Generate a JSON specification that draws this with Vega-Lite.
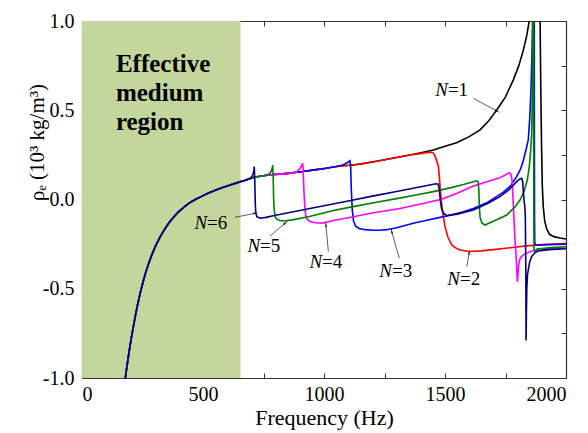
{
"$schema":"https://vega.github.io/schema/vega-lite/v6.json",
"width":484,"height":357,
"autosize":{"type":"none"},
"padding":{"left":82,"top":21,"right":22,"bottom":55},
"config":{"view":{"stroke":null},"font":"Liberation Serif",
"text":{"font":"Liberation Serif"},
"axis":{"domainColor":"#333","domainWidth":1.2,"tickColor":"#333","tickSize":-5,"grid":false,"labelFont":"Liberation Serif","labelFontSize":20,"labelColor":"#000","titleFont":"Liberation Serif","titleFontSize":22,"titleFontWeight":"normal","titleColor":"#000","zindex":1}},
"layer":[
{"data":{"values":[{"x0":0,"x1":655,"y0":-1,"y1":1}]},
"mark":{"type":"rect","color":"#c3d69b"},
"encoding":{
"x":{"field":"x0","type":"quantitative","scale":{"domain":[0,2000],"nice":false},"axis":{"orient":"top","labels":false,"title":null,"values":[0,250,500,750,1000,1250,1500,1750,2000]}},
"x2":{"field":"x1"},
"y":{"field":"y0","type":"quantitative","scale":{"domain":[-1,1],"nice":false},"axis":{"orient":"right","labels":false,"title":null,"values":[-1,-0.75,-0.5,-0.25,0,0.25,0.5,0.75,1]}},
"y2":{"field":"y1"}}},
{"data":{"values":[
{"s":1,"f":176,"r":-1.05},{"s":1,"f":179,"r":-1.0},{"s":1,"f":186,"r":-0.932},{"s":1,"f":193,"r":-0.868},{"s":1,"f":200,"r":-0.808},{"s":1,"f":207,"r":-0.752},{"s":1,"f":213,"r":-0.706},{"s":1,"f":220,"r":-0.655},{"s":1,"f":230,"r":-0.588},{"s":1,"f":241,"r":-0.522},{"s":1,"f":251,"r":-0.468},{"s":1,"f":262,"r":-0.415},{"s":1,"f":275,"r":-0.36},{"s":1,"f":289,"r":-0.308},{"s":1,"f":305,"r":-0.257},{"s":1,"f":324,"r":-0.206},{"s":1,"f":340,"r":-0.17},{"s":1,"f":358,"r":-0.133},{"s":1,"f":378,"r":-0.099},{"s":1,"f":399,"r":-0.069},{"s":1,"f":420,"r":-0.044},{"s":1,"f":441,"r":-0.022},{"s":1,"f":468,"r":0},{"s":1,"f":496,"r":0.019},{"s":1,"f":523,"r":0.036},{"s":1,"f":551,"r":0.052},{"s":1,"f":578,"r":0.066},{"s":1,"f":606,"r":0.079},{"s":1,"f":630,"r":0.089},{"s":1,"f":654,"r":0.099},{"s":1,"f":675,"r":0.108},{"s":1,"f":694,"r":0.117},
{"s":1,"f":711,"r":0.124},{"s":1,"f":730,"r":0.129},{"s":1,"f":750,"r":0.133},{"s":1,"f":763,"r":0.136},
{"s":1,"f":790,"r":0.14},{"s":1,"f":818,"r":0.142},{"s":1,"f":840,"r":0.145},{"s":1,"f":860,"r":0.148},{"s":1,"f":885,"r":0.153},
{"s":1,"f":912,"r":0.157},{"s":1,"f":928,"r":0.16},{"s":1,"f":960,"r":0.166},{"s":1,"f":997,"r":0.172},{"s":1,"f":1039,"r":0.182},{"s":1,"f":1052,"r":0.185},
{"s":1,"f":1080,"r":0.19},{"s":1,"f":1107,"r":0.192},{"s":1,"f":1128,"r":0.195},{"s":1,"f":1160,"r":0.201},{"s":1,"f":1200,"r":0.21},{"s":1,"f":1245,"r":0.221},{"s":1,"f":1300,"r":0.235},{"s":1,"f":1355,"r":0.249},
{"s":1,"f":1400,"r":0.262},{"s":1,"f":1452,"r":0.277},{"s":1,"f":1500,"r":0.298},{"s":1,"f":1548,"r":0.318},{"s":1,"f":1600,"r":0.352},{"s":1,"f":1645,"r":0.39},{"s":1,"f":1680,"r":0.44},{"s":1,"f":1713,"r":0.5},{"s":1,"f":1750,"r":0.575},{"s":1,"f":1782,"r":0.669},{"s":1,"f":1805,"r":0.75},{"s":1,"f":1824,"r":0.838},{"s":1,"f":1838,"r":0.92},{"s":1,"f":1848,"r":1.0},{"s":1,"f":1852,"r":1.35},{"s":1,"f":1889,"r":1.35},{"s":1,"f":1893,"r":1.0},{"s":1,"f":1896,"r":0.6},{"s":1,"f":1899,"r":0.3},{"s":1,"f":1902,"r":0.08},{"s":1,"f":1906,"r":-0.04},{"s":1,"f":1912,"r":-0.12},{"s":1,"f":1920,"r":-0.165},{"s":1,"f":1932,"r":-0.195},{"s":1,"f":1950,"r":-0.208},{"s":1,"f":1975,"r":-0.216},{"s":1,"f":2000,"r":-0.221},
{"s":2,"f":176,"r":-1.05},{"s":2,"f":179,"r":-1.0},{"s":2,"f":186,"r":-0.932},{"s":2,"f":193,"r":-0.868},{"s":2,"f":200,"r":-0.808},{"s":2,"f":207,"r":-0.752},{"s":2,"f":213,"r":-0.706},{"s":2,"f":220,"r":-0.655},{"s":2,"f":230,"r":-0.588},{"s":2,"f":241,"r":-0.522},{"s":2,"f":251,"r":-0.468},{"s":2,"f":262,"r":-0.415},{"s":2,"f":275,"r":-0.36},{"s":2,"f":289,"r":-0.308},{"s":2,"f":305,"r":-0.257},{"s":2,"f":324,"r":-0.206},{"s":2,"f":340,"r":-0.17},{"s":2,"f":358,"r":-0.133},{"s":2,"f":378,"r":-0.099},{"s":2,"f":399,"r":-0.069},{"s":2,"f":420,"r":-0.044},{"s":2,"f":441,"r":-0.022},{"s":2,"f":468,"r":0},{"s":2,"f":496,"r":0.019},{"s":2,"f":523,"r":0.036},{"s":2,"f":551,"r":0.052},{"s":2,"f":578,"r":0.066},{"s":2,"f":606,"r":0.079},{"s":2,"f":630,"r":0.089},{"s":2,"f":654,"r":0.099},{"s":2,"f":675,"r":0.108},{"s":2,"f":694,"r":0.117},
{"s":2,"f":711,"r":0.124},{"s":2,"f":730,"r":0.129},{"s":2,"f":750,"r":0.133},{"s":2,"f":763,"r":0.136},
{"s":2,"f":790,"r":0.14},{"s":2,"f":818,"r":0.142},{"s":2,"f":840,"r":0.145},{"s":2,"f":860,"r":0.148},{"s":2,"f":885,"r":0.153},
{"s":2,"f":912,"r":0.157},{"s":2,"f":928,"r":0.16},{"s":2,"f":960,"r":0.166},{"s":2,"f":997,"r":0.172},{"s":2,"f":1039,"r":0.182},{"s":2,"f":1052,"r":0.185},
{"s":2,"f":1080,"r":0.19},{"s":2,"f":1107,"r":0.192},{"s":2,"f":1128,"r":0.195},{"s":2,"f":1160,"r":0.201},{"s":2,"f":1200,"r":0.21},{"s":2,"f":1245,"r":0.221},{"s":2,"f":1300,"r":0.235},{"s":2,"f":1355,"r":0.249},
{"s":2,"f":1395,"r":0.257},{"s":2,"f":1431,"r":0.264},{"s":2,"f":1445,"r":0.265},{"s":2,"f":1452,"r":0.26},{"s":2,"f":1460,"r":0.24},{"s":2,"f":1467,"r":0.21},{"s":2,"f":1473,"r":0.184},{"s":2,"f":1478,"r":0.1},{"s":2,"f":1483,"r":0.016},{"s":2,"f":1490,"r":-0.07},{"s":2,"f":1500,"r":-0.152},{"s":2,"f":1512,"r":-0.21},{"s":2,"f":1528,"r":-0.255},{"s":2,"f":1545,"r":-0.272},{"s":2,"f":1562,"r":-0.283},{"s":2,"f":1600,"r":-0.291},{"s":2,"f":1650,"r":-0.288},{"s":2,"f":1700,"r":-0.281},{"s":2,"f":1760,"r":-0.272},{"s":2,"f":1837,"r":-0.26},{"s":2,"f":1900,"r":-0.253},{"s":2,"f":2000,"r":-0.247},
{"s":3,"f":176,"r":-1.05},{"s":3,"f":179,"r":-1.0},{"s":3,"f":186,"r":-0.932},{"s":3,"f":193,"r":-0.868},{"s":3,"f":200,"r":-0.808},{"s":3,"f":207,"r":-0.752},{"s":3,"f":213,"r":-0.706},{"s":3,"f":220,"r":-0.655},{"s":3,"f":230,"r":-0.588},{"s":3,"f":241,"r":-0.522},{"s":3,"f":251,"r":-0.468},{"s":3,"f":262,"r":-0.415},{"s":3,"f":275,"r":-0.36},{"s":3,"f":289,"r":-0.308},{"s":3,"f":305,"r":-0.257},{"s":3,"f":324,"r":-0.206},{"s":3,"f":340,"r":-0.17},{"s":3,"f":358,"r":-0.133},{"s":3,"f":378,"r":-0.099},{"s":3,"f":399,"r":-0.069},{"s":3,"f":420,"r":-0.044},{"s":3,"f":441,"r":-0.022},{"s":3,"f":468,"r":0},{"s":3,"f":496,"r":0.019},{"s":3,"f":523,"r":0.036},{"s":3,"f":551,"r":0.052},{"s":3,"f":578,"r":0.066},{"s":3,"f":606,"r":0.079},{"s":3,"f":630,"r":0.089},{"s":3,"f":654,"r":0.099},{"s":3,"f":675,"r":0.108},{"s":3,"f":694,"r":0.117},
{"s":3,"f":711,"r":0.124},{"s":3,"f":730,"r":0.129},{"s":3,"f":750,"r":0.133},{"s":3,"f":763,"r":0.136},
{"s":3,"f":790,"r":0.14},{"s":3,"f":818,"r":0.142},{"s":3,"f":840,"r":0.145},{"s":3,"f":860,"r":0.148},{"s":3,"f":885,"r":0.153},
{"s":3,"f":912,"r":0.157},{"s":3,"f":928,"r":0.16},{"s":3,"f":960,"r":0.166},{"s":3,"f":997,"r":0.172},{"s":3,"f":1039,"r":0.182},{"s":3,"f":1052,"r":0.185},
{"s":3,"f":1070,"r":0.19},{"s":3,"f":1085,"r":0.198},{"s":3,"f":1097,"r":0.207},{"s":3,"f":1103,"r":0.213},{"s":3,"f":1107,"r":0.217},{"s":3,"f":1110,"r":0.19},{"s":3,"f":1113,"r":0.05},{"s":3,"f":1117,"r":-0.06},{"s":3,"f":1122,"r":-0.12},{"s":3,"f":1130,"r":-0.148},{"s":3,"f":1145,"r":-0.162},{"s":3,"f":1170,"r":-0.169},{"s":3,"f":1204,"r":-0.172},{"s":3,"f":1230,"r":-0.172},{"s":3,"f":1259,"r":-0.169},{"s":3,"f":1300,"r":-0.158},{"s":3,"f":1369,"r":-0.133},{"s":3,"f":1430,"r":-0.115},{"s":3,"f":1479,"r":-0.1},{"s":3,"f":1507,"r":-0.092},{"s":3,"f":1560,"r":-0.075},{"s":3,"f":1617,"r":-0.05},{"s":3,"f":1670,"r":-0.02},{"s":3,"f":1713,"r":0.016},{"s":3,"f":1740,"r":0.04},{"s":3,"f":1770,"r":0.075},{"s":3,"f":1796,"r":0.128},{"s":3,"f":1812,"r":0.17},{"s":3,"f":1824,"r":0.22},{"s":3,"f":1835,"r":0.28},{"s":3,"f":1844,"r":0.333},{"s":3,"f":1850,"r":0.45},{"s":3,"f":1855,"r":0.6},{"s":3,"f":1859,"r":0.8},{"s":3,"f":1862,"r":1.0},{"s":3,"f":1864,"r":1.35},{"s":3,"f":1868,"r":1.35},{"s":3,"f":1869,"r":1.0},{"s":3,"f":1869.5,"r":0.3},{"s":3,"f":1870,"r":-0.1},{"s":3,"f":1871,"r":-0.24},{"s":3,"f":1874,"r":-0.255},{"s":3,"f":1900,"r":-0.254},{"s":3,"f":1950,"r":-0.252},{"s":3,"f":2000,"r":-0.25},
{"s":4,"f":176,"r":-1.05},{"s":4,"f":179,"r":-1.0},{"s":4,"f":186,"r":-0.932},{"s":4,"f":193,"r":-0.868},{"s":4,"f":200,"r":-0.808},{"s":4,"f":207,"r":-0.752},{"s":4,"f":213,"r":-0.706},{"s":4,"f":220,"r":-0.655},{"s":4,"f":230,"r":-0.588},{"s":4,"f":241,"r":-0.522},{"s":4,"f":251,"r":-0.468},{"s":4,"f":262,"r":-0.415},{"s":4,"f":275,"r":-0.36},{"s":4,"f":289,"r":-0.308},{"s":4,"f":305,"r":-0.257},{"s":4,"f":324,"r":-0.206},{"s":4,"f":340,"r":-0.17},{"s":4,"f":358,"r":-0.133},{"s":4,"f":378,"r":-0.099},{"s":4,"f":399,"r":-0.069},{"s":4,"f":420,"r":-0.044},{"s":4,"f":441,"r":-0.022},{"s":4,"f":468,"r":0},{"s":4,"f":496,"r":0.019},{"s":4,"f":523,"r":0.036},{"s":4,"f":551,"r":0.052},{"s":4,"f":578,"r":0.066},{"s":4,"f":606,"r":0.079},{"s":4,"f":630,"r":0.089},{"s":4,"f":654,"r":0.099},{"s":4,"f":675,"r":0.108},{"s":4,"f":694,"r":0.117},
{"s":4,"f":711,"r":0.124},{"s":4,"f":730,"r":0.129},{"s":4,"f":750,"r":0.133},{"s":4,"f":763,"r":0.136},
{"s":4,"f":790,"r":0.14},{"s":4,"f":818,"r":0.142},{"s":4,"f":840,"r":0.145},{"s":4,"f":860,"r":0.148},{"s":4,"f":885,"r":0.153},
{"s":4,"f":895,"r":0.165},{"s":4,"f":903,"r":0.178},{"s":4,"f":909,"r":0.192},{"s":4,"f":912,"r":0.203},{"s":4,"f":914,"r":0.16},{"s":4,"f":917,"r":0.05},{"s":4,"f":920,"r":-0.03},{"s":4,"f":924,"r":-0.085},{"s":4,"f":930,"r":-0.11},{"s":4,"f":945,"r":-0.125},{"s":4,"f":970,"r":-0.132},{"s":4,"f":1000,"r":-0.131},{"s":4,"f":1039,"r":-0.118},{"s":4,"f":1100,"r":-0.102},{"s":4,"f":1200,"r":-0.076},{"s":4,"f":1314,"r":-0.05},{"s":4,"f":1400,"r":-0.025},{"s":4,"f":1486,"r":0.001},{"s":4,"f":1550,"r":0.035},{"s":4,"f":1617,"r":0.075},{"s":4,"f":1680,"r":0.102},{"s":4,"f":1727,"r":0.122},{"s":4,"f":1755,"r":0.142},{"s":4,"f":1766,"r":0.15},{"s":4,"f":1772,"r":0.142},{"s":4,"f":1777,"r":0.11},{"s":4,"f":1780,"r":0.04},{"s":4,"f":1783,"r":-0.05},{"s":4,"f":1786,"r":-0.14},{"s":4,"f":1789,"r":-0.22},{"s":4,"f":1793,"r":-0.3},{"s":4,"f":1796,"r":-0.38},{"s":4,"f":1799,"r":-0.46},{"s":4,"f":1801,"r":-0.43},{"s":4,"f":1804,"r":-0.37},{"s":4,"f":1810,"r":-0.33},{"s":4,"f":1824,"r":-0.31},{"s":4,"f":1845,"r":-0.295},{"s":4,"f":1865,"r":-0.287},{"s":4,"f":1930,"r":-0.278},{"s":4,"f":2000,"r":-0.272},
{"s":5,"f":176,"r":-1.05},{"s":5,"f":179,"r":-1.0},{"s":5,"f":186,"r":-0.932},{"s":5,"f":193,"r":-0.868},{"s":5,"f":200,"r":-0.808},{"s":5,"f":207,"r":-0.752},{"s":5,"f":213,"r":-0.706},{"s":5,"f":220,"r":-0.655},{"s":5,"f":230,"r":-0.588},{"s":5,"f":241,"r":-0.522},{"s":5,"f":251,"r":-0.468},{"s":5,"f":262,"r":-0.415},{"s":5,"f":275,"r":-0.36},{"s":5,"f":289,"r":-0.308},{"s":5,"f":305,"r":-0.257},{"s":5,"f":324,"r":-0.206},{"s":5,"f":340,"r":-0.17},{"s":5,"f":358,"r":-0.133},{"s":5,"f":378,"r":-0.099},{"s":5,"f":399,"r":-0.069},{"s":5,"f":420,"r":-0.044},{"s":5,"f":441,"r":-0.022},{"s":5,"f":468,"r":0},{"s":5,"f":496,"r":0.019},{"s":5,"f":523,"r":0.036},{"s":5,"f":551,"r":0.052},{"s":5,"f":578,"r":0.066},{"s":5,"f":606,"r":0.079},{"s":5,"f":630,"r":0.089},{"s":5,"f":654,"r":0.099},{"s":5,"f":675,"r":0.108},{"s":5,"f":694,"r":0.117},
{"s":5,"f":711,"r":0.124},{"s":5,"f":730,"r":0.129},{"s":5,"f":750,"r":0.133},{"s":5,"f":763,"r":0.136},
{"s":5,"f":775,"r":0.145},{"s":5,"f":782,"r":0.158},{"s":5,"f":786,"r":0.175},{"s":5,"f":788,"r":0.193},{"s":5,"f":790,"r":0.12},{"s":5,"f":792,"r":0},{"s":5,"f":795,"r":-0.07},{"s":5,"f":799,"r":-0.1},{"s":5,"f":808,"r":-0.113},{"s":5,"f":820,"r":-0.118},{"s":5,"f":832,"r":-0.12},{"s":5,"f":870,"r":-0.114},{"s":5,"f":940,"r":-0.095},{"s":5,"f":1039,"r":-0.062},{"s":5,"f":1120,"r":-0.04},{"s":5,"f":1200,"r":-0.02},{"s":5,"f":1300,"r":0.005},{"s":5,"f":1380,"r":0.025},{"s":5,"f":1452,"r":0.044},{"s":5,"f":1530,"r":0.068},{"s":5,"f":1580,"r":0.085},{"s":5,"f":1617,"r":0.1},{"s":5,"f":1630,"r":0.105},{"s":5,"f":1637,"r":0.1},{"s":5,"f":1640,"r":0.05},{"s":5,"f":1642,"r":-0.04},{"s":5,"f":1645,"r":-0.1},{"s":5,"f":1652,"r":-0.13},{"s":5,"f":1665,"r":-0.143},{"s":5,"f":1700,"r":-0.122},{"s":5,"f":1755,"r":-0.087},{"s":5,"f":1790,"r":-0.04},{"s":5,"f":1810,"r":-0.003},{"s":5,"f":1828,"r":0.05},{"s":5,"f":1840,"r":0.109},{"s":5,"f":1848,"r":0.18},{"s":5,"f":1853,"r":0.26},{"s":5,"f":1858,"r":0.36},{"s":5,"f":1861,"r":0.6},{"s":5,"f":1863,"r":1.0},{"s":5,"f":1864,"r":1.35},{"s":5,"f":1865,"r":1.35},{"s":5,"f":1866,"r":1.0},{"s":5,"f":1866.5,"r":0.3},{"s":5,"f":1867,"r":-0.1},{"s":5,"f":1868,"r":-0.28},{"s":5,"f":1871,"r":-0.29},{"s":5,"f":1880,"r":-0.278},{"s":5,"f":1950,"r":-0.268},{"s":5,"f":2000,"r":-0.265},
{"s":6,"f":176,"r":-1.05},{"s":6,"f":179,"r":-1.0},{"s":6,"f":186,"r":-0.932},{"s":6,"f":193,"r":-0.868},{"s":6,"f":200,"r":-0.808},{"s":6,"f":207,"r":-0.752},{"s":6,"f":213,"r":-0.706},{"s":6,"f":220,"r":-0.655},{"s":6,"f":230,"r":-0.588},{"s":6,"f":241,"r":-0.522},{"s":6,"f":251,"r":-0.468},{"s":6,"f":262,"r":-0.415},{"s":6,"f":275,"r":-0.36},{"s":6,"f":289,"r":-0.308},{"s":6,"f":305,"r":-0.257},{"s":6,"f":324,"r":-0.206},{"s":6,"f":340,"r":-0.17},{"s":6,"f":358,"r":-0.133},{"s":6,"f":378,"r":-0.099},{"s":6,"f":399,"r":-0.069},{"s":6,"f":420,"r":-0.044},{"s":6,"f":441,"r":-0.022},{"s":6,"f":468,"r":0},{"s":6,"f":496,"r":0.019},{"s":6,"f":523,"r":0.036},{"s":6,"f":551,"r":0.052},{"s":6,"f":578,"r":0.066},{"s":6,"f":606,"r":0.079},{"s":6,"f":630,"r":0.089},{"s":6,"f":654,"r":0.099},{"s":6,"f":675,"r":0.108},{"s":6,"f":694,"r":0.117},
{"s":6,"f":702,"r":0.128},{"s":6,"f":707,"r":0.143},{"s":6,"f":710,"r":0.163},{"s":6,"f":712,"r":0.184},{"s":6,"f":714,"r":0.1},{"s":6,"f":716,"r":-0.02},{"s":6,"f":718,"r":-0.075},{"s":6,"f":723,"r":-0.097},{"s":6,"f":736,"r":-0.105},{"s":6,"f":760,"r":-0.1},{"s":6,"f":800,"r":-0.088},{"s":6,"f":900,"r":-0.062},{"s":6,"f":1000,"r":-0.035},{"s":6,"f":1100,"r":-0.008},{"s":6,"f":1200,"r":0.019},{"s":6,"f":1300,"r":0.045},{"s":6,"f":1400,"r":0.071},{"s":6,"f":1452,"r":0.085},{"s":6,"f":1465,"r":0.088},{"s":6,"f":1472,"r":0.086},{"s":6,"f":1476,"r":0.06},{"s":6,"f":1479,"r":0.02},{"s":6,"f":1482,"r":-0.02},{"s":6,"f":1486,"r":-0.05},{"s":6,"f":1493,"r":-0.075},{"s":6,"f":1507,"r":-0.09},{"s":6,"f":1550,"r":-0.082},{"s":6,"f":1617,"r":-0.059},{"s":6,"f":1680,"r":-0.02},{"s":6,"f":1727,"r":0.016},{"s":6,"f":1765,"r":0.055},{"s":6,"f":1796,"r":0.1},{"s":6,"f":1810,"r":0.115},{"s":6,"f":1817,"r":0.119},{"s":6,"f":1821,"r":0.1},{"s":6,"f":1824,"r":0.04},{"s":6,"f":1827,"r":-0.01},{"s":6,"f":1830,"r":-0.04},{"s":6,"f":1832,"r":-0.1},{"s":6,"f":1834,"r":-0.4},{"s":6,"f":1835,"r":-0.79},{"s":6,"f":1836.5,"r":-0.62},{"s":6,"f":1838,"r":-0.5},{"s":6,"f":1841,"r":-0.42},{"s":6,"f":1844,"r":-0.395},{"s":6,"f":1850,"r":-0.35},{"s":6,"f":1858,"r":-0.32},{"s":6,"f":1870,"r":-0.3},{"s":6,"f":1886,"r":-0.288},{"s":6,"f":1930,"r":-0.281},{"s":6,"f":2000,"r":-0.276}
]},
"mark":{"type":"line","strokeWidth":1.6,"clip":true},
"encoding":{
"x":{"field":"f","type":"quantitative","axis":{"orient":"bottom","title":"Frequency (Hz)","values":[0,250,500,750,1000,1250,1500,1750,2000],"labelExpr":"datum.value % 500 == 0 ? format(datum.value, 'd') : ''","labelFont":"Liberation Serif","titleFont":"Liberation Serif","labelPadding":11,"titleY":46,"titleBaseline":"alphabetic"}},
"y":{"field":"r","type":"quantitative","axis":{"orient":"left","title":"ρₑ (10³ kg/m³)","values":[-1,-0.75,-0.5,-0.25,0,0.25,0.5,0.75,1],"labelExpr":"datum.value % 0.5 == 0 ? replace(format(datum.value, '.1f'), '−', '-') : ''","labelFont":"Liberation Serif","titleFont":"Liberation Serif","titleFontSize":21,"labelPadding":13,"titleX":-45,"titleY":121,"titleAngle":270,"titleBaseline":"middle","titleAlign":"center"}},
"color":{"field":"s","type":"nominal","scale":{"domain":[1,2,3,4,5,6],"range":["#000000","#ff0000","#0000ff","#ff00ff","#008000","#000080"]},"legend":null}}},
{"data":{"values":[{"x1":1617,"y1":0.567,"x2":1714,"y2":0.496},{"x1":632,"y1":-0.1,"x2":715,"y2":-0.077},{"x1":777,"y1":-0.204,"x2":839,"y2":-0.133},{"x1":1018,"y1":-0.292,"x2":1008,"y2":-0.143},{"x1":1311,"y1":-0.329,"x2":1280,"y2":-0.18},{"x1":1590,"y1":-0.376,"x2":1600,"y2":-0.298}]},
"layer":[
{"mark":{"type":"rule","strokeWidth":0.8,"color":"#333"},
"encoding":{"x":{"field":"x1","type":"quantitative","axis":null},"y":{"field":"y1","type":"quantitative","axis":null},"x2":{"field":"x2"},"y2":{"field":"y2"}}},
{"transform":[{"calculate":"atan2((datum.x2-datum.x1)*0.242,(datum.y2-datum.y1)*178.5)*180/PI","as":"ang"}],
"mark":{"type":"point","shape":"wedge","filled":true,"size":45,"color":"#111","opacity":1},
"encoding":{"x":{"field":"x2","type":"quantitative","axis":null},"y":{"field":"y2","type":"quantitative","axis":null},"angle":{"field":"ang","type":"quantitative","scale":null}}}
]},
{"data":{"values":[{"k":"=1","f":1512,"r":0.613},{"k":"=6","f":517,"r":-0.129},{"k":"=5","f":736,"r":-0.26},{"k":"=4","f":992,"r":-0.35},{"k":"=3","f":1281,"r":-0.398},{"k":"=2","f":1562,"r":-0.448}]},
"layer":[
{"mark":{"type":"text","text":"N","fontStyle":"italic","fontSize":19,"align":"right","baseline":"middle","font":"Liberation Serif","color":"#000"},
"encoding":{"x":{"field":"f","type":"quantitative","axis":null},"y":{"field":"r","type":"quantitative","axis":null}}},
{"mark":{"type":"text","fontSize":19,"align":"left","baseline":"middle","font":"Liberation Serif","color":"#000"},
"encoding":{"x":{"field":"f","type":"quantitative","axis":null},"y":{"field":"r","type":"quantitative","axis":null},"text":{"field":"k"}}}
]},
{"data":{"values":[{"t":"Effective\nmedium\nregion","f":140,"r":0.714}]},
"mark":{"type":"text","fontSize":25,"fontWeight":"bold","font":"Liberation Serif","align":"left","baseline":"alphabetic","lineBreak":"\n","lineHeight":29,"color":"#000"},
"encoding":{"x":{"field":"f","type":"quantitative","axis":null},"y":{"field":"r","type":"quantitative","axis":null},"text":{"field":"t"}}}
],
"resolve":{"axis":{"x":"independent","y":"independent"}}
}
